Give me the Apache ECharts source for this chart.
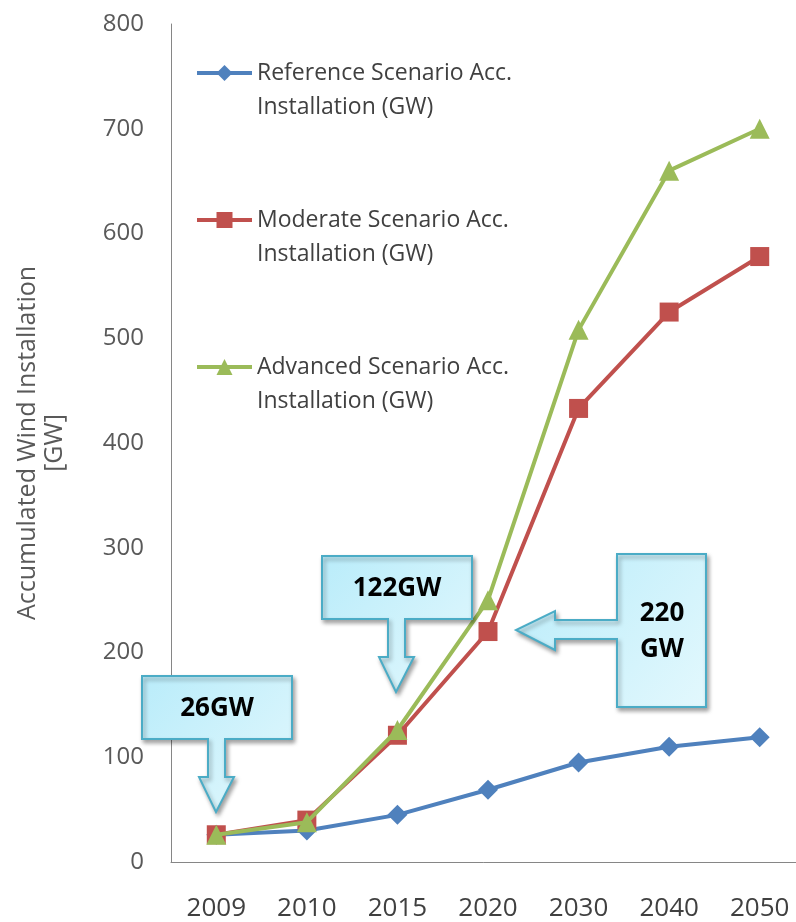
<!DOCTYPE html>
<html>
<head>
<meta charset="utf-8">
<script src="https://cdn.jsdelivr.net/npm/echarts@6/dist/echarts.min.js"></script>
<style>html,body{margin:0;padding:0;background:#fff}#c{width:796px;height:922px}</style>
</head>
<body>
<div id="c"></div>
<script>
var categories = ['2009', '2010', '2015', '2020', '2030', '2040', '2050'];
var referenceValues = [26, 30, 45, 69, 95, 110, 119];
var moderateValues = [26, 40, 121, 220, 433, 525, 578];
var advancedValues = [26, 38, 126, 250, 508, 660, 700];
var yTicks = [0, 100, 200, 300, 400, 500, 600, 700, 800];
var seriesNames = ['Reference Scenario Acc.\nInstallation (GW)', 'Moderate Scenario Acc.\nInstallation (GW)', 'Advanced Scenario Acc.\nInstallation (GW)'];

var FONT = '"Open Sans", "Noto Sans", sans-serif';
var chart = echarts.init(document.getElementById('c'));

function callout(points, text, tx, ty) {
  return {
    type: 'group',
    children: [
      {
        type: 'polygon',
        shape: { points: points },
        style: {
          fill: new echarts.graphic.LinearGradient(0, 0, 1, 1, [
            { offset: 0, color: '#b9ecfa' },
            { offset: 1, color: '#e3f8fd' }
          ]),
          stroke: '#4bacc6',
          lineWidth: 2,
          shadowBlur: 4,
          shadowOffsetX: 2,
          shadowOffsetY: 3,
          shadowColor: 'rgba(0,0,0,0.35)'
        },
        z: 100
      },
      {
        type: 'text',
        x: tx, y: ty,
        style: {
          text: text,
          fill: '#000',
          font: 'bold 26px ' + FONT,
          align: 'center',
          verticalAlign: 'middle',
          lineHeight: 36
        },
        z: 101
      }
    ]
  };
}

var option = {
  animation: false,
  backgroundColor: '#fff',
  grid: { left: 171, top: 24, width: 634, height: 838, containLabel: false, outerBoundsMode: 'none' },
  legend: {
    orient: 'vertical',
    left: 195,
    top: 22,
    padding: 0,
    itemWidth: 55,
    itemHeight: 20,
    itemGap: 45,
    data: seriesNames,
    formatter: function (name) { return '\n' + name; },
    lineStyle: { width: 4 },
    textStyle: { fontFamily: FONT, fontSize: 23, color: '#404040', lineHeight: 34 }
  },
  xAxis: {
    type: 'category',
    data: categories,
    boundaryGap: true,
    axisLine: { lineStyle: { color: '#868686', width: 1 } },
    axisTick: { show: false },
    axisLabel: { margin: 34, fontFamily: FONT, fontSize: 26, color: '#404040' },
    splitLine: { show: false }
  },
  yAxis: {
    type: 'value',
    min: yTicks[0],
    max: yTicks[yTicks.length - 1],
    interval: 100,
    name: 'Accumulated Wind Installation\n[GW]',
    nameLocation: 'middle',
    nameGap: 103,
    nameTextStyle: { fontFamily: FONT, fontSize: 25, color: '#595959', lineHeight: 27 },
    axisLine: { show: true, lineStyle: { color: '#868686', width: 1 } },
    axisTick: { show: false },
    axisLabel: { margin: 27, fontFamily: FONT, fontSize: 24, color: '#595959' },
    splitLine: { show: false }
  },
  series: [
    {
      name: seriesNames[0], type: 'line', data: referenceValues,
      symbol: 'diamond', symbolSize: 20, z: 3,
      lineStyle: { color: '#4f81bd', width: 4 },
      itemStyle: { color: '#4f81bd' }
    },
    {
      name: seriesNames[1], type: 'line', data: moderateValues,
      symbol: 'rect', symbolSize: 19, z: 4,
      lineStyle: { color: '#c0504d', width: 4 },
      itemStyle: { color: '#c0504d' }
    },
    {
      name: seriesNames[2], type: 'line', data: advancedValues,
      symbol: 'triangle', symbolSize: 20, z: 5,
      lineStyle: { color: '#9bbb59', width: 4 },
      itemStyle: { color: '#9bbb59' }
    }
  ],
  graphic: [
    callout([[142,676],[292,676],[292,739],[225,739],[225,777],[234,777],[216,812],[199,777],[208,777],[208,739],[142,739]], '26GW', 217, 709),
    callout([[322,556],[472,556],[472,619],[405,619],[405,657],[414,657],[396,692],[379,657],[388,657],[388,619],[322,619]], '122GW', 397, 589),
    callout([[617,554],[706,554],[706,707],[617,707],[617,639],[555,639],[555,650],[516,630],[555,611],[555,620],[617,620]], '220\nGW', 662, 632)
  ]
};
chart.setOption(option);
</script>
</body>
</html>
